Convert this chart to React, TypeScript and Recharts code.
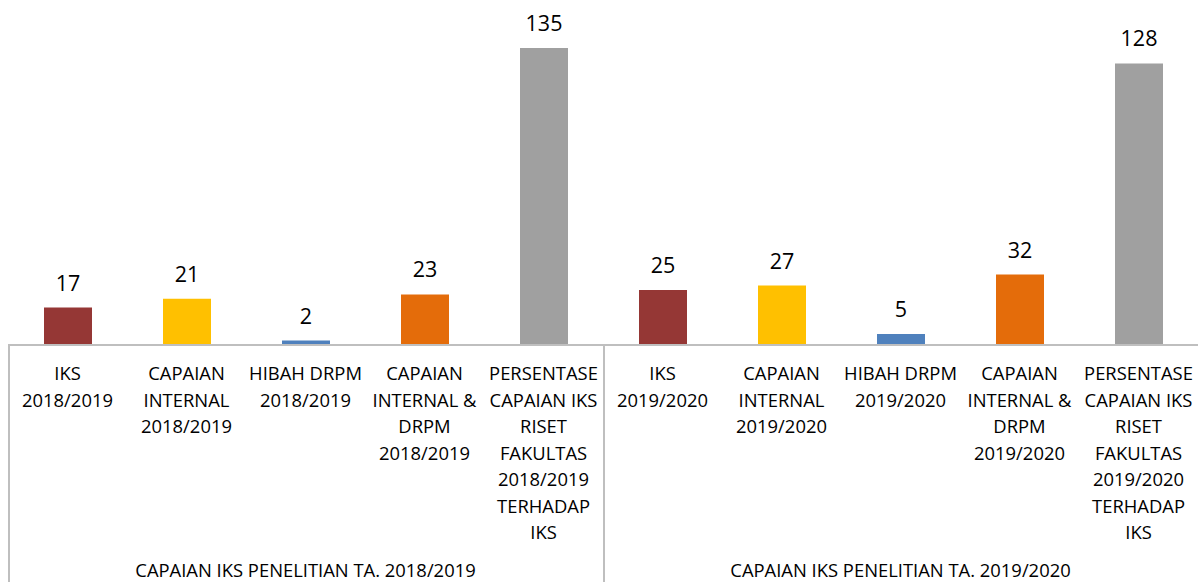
import { BarChart, Bar, XAxis, YAxis, Cell, LabelList } from 'recharts';

const categories = [
    'IKS\n2018/2019',
    'CAPAIAN\nINTERNAL\n2018/2019',
    'HIBAH DRPM\n2018/2019',
    'CAPAIAN\nINTERNAL &\nDRPM\n2018/2019',
    'PERSENTASE\nCAPAIAN IKS\nRISET\nFAKULTAS\n2018/2019\nTERHADAP\nIKS',
    'IKS\n2019/2020',
    'CAPAIAN\nINTERNAL\n2019/2020',
    'HIBAH DRPM\n2019/2020',
    'CAPAIAN\nINTERNAL &\nDRPM\n2019/2020',
    'PERSENTASE\nCAPAIAN IKS\nRISET\nFAKULTAS\n2019/2020\nTERHADAP\nIKS',
];
const values = [17, 21, 2, 23, 135, 25, 27, 5, 32, 128];
const colors = ['#953735', '#FFC000', '#4F81BD', '#E46C0A', '#A0A0A0', '#953735', '#FFC000', '#4F81BD', '#E46C0A', '#A0A0A0'];
const groups = ['CAPAIAN IKS PENELITIAN TA. 2018/2019', 'CAPAIAN IKS PENELITIAN TA. 2019/2020'];

const data = categories.map((name, i) => ({ name, value: values[i] }));

const FONT = '"Open Sans", sans-serif';
const W = 1190;
const SLOT = W / categories.length;

function CategoryTick(props: any) {
    const { x, y, payload, index } = props;
    const lines: string[] = String(payload.value).split('\n');
    const groupIdx = Math.floor(index / 5);
    const posInGroup = index % 5;
    const top = y - 8;
    return (
        <g>
            <text x={x} y={top + 35} textAnchor="middle" fontFamily={FONT} fontSize={18.4} fill="#000">
                {lines.map((l, i) => (
                    <tspan key={i} x={x} dy={i === 0 ? 0 : 26.5}>{l}</tspan>
                ))}
            </text>
            {posInGroup === 0 && (
                <line x1={x - SLOT / 2 + 1} x2={x - SLOT / 2 + 1} y1={top} y2={top + 240} stroke="#BFBFBF" strokeWidth={2} />
            )}
            {posInGroup === 2 && (
                <text x={x} y={top + 232} textAnchor="middle" fontFamily={FONT} fontSize={18.4} fill="#000">
                    {groups[groupIdx]}
                </text>
            )}
        </g>
    );
}

export default function App() {
    // body margin moved into padding so the page is exactly 1198x582 (no scrollbar)
    return (
        <div style={{ padding: '8px 0 0 8px', width: W, height: 574, overflow: 'hidden' }}>
            <style>{'body{margin:0}'}</style>
            <BarChart width={W} height={574} data={data} margin={{ top: 40, right: 0, bottom: 0, left: 0 }} style={{ overflow: 'visible' }}>
                <XAxis
                    dataKey="name"
                    interval={0}
                    tickLine={false}
                    axisLine={{ stroke: '#BFBFBF', strokeWidth: 2 }}
                    height={237}
                    tick={<CategoryTick />}
                />
                <YAxis hide domain={[0, 135]} />
                <Bar dataKey="value" barSize={48} isAnimationActive={false}>
                    {data.map((d, i) => (
                        <Cell key={i} fill={colors[i]} />
                    ))}
                    <LabelList dataKey="value" position="top" offset={17} fontFamily={FONT} fontSize={21.5} fill="#000" />
                </Bar>
            </BarChart>
        </div>
    );
}
